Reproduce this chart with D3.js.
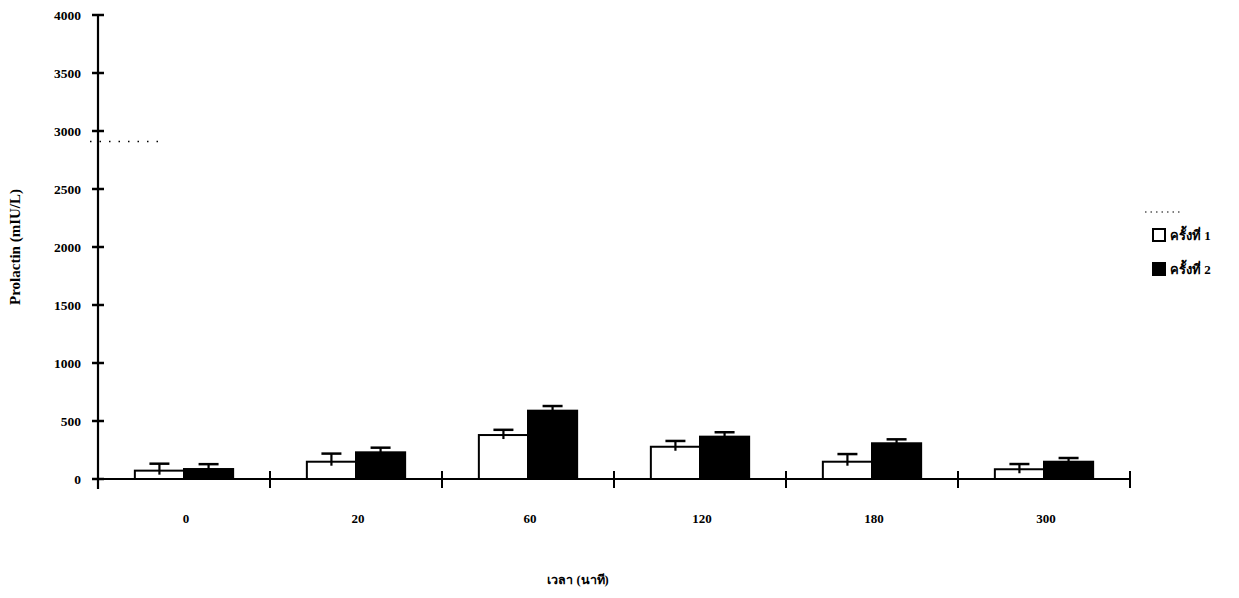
<!DOCTYPE html>
<html><head><meta charset="utf-8">
<script src="https://cdn.jsdelivr.net/npm/d3@7"></script>
<style>
body{margin:0;background:#fff;}
svg text{font-family:"Liberation Serif","DejaVu Serif",serif;font-weight:bold;fill:#000;}
</style></head>
<body><svg id="c" width="1239" height="598"></svg>
<script>
const categories = ["0","20","60","120","180","300"];
const seriesNames = ["ครั้งที่ 1","ครั้งที่ 2"];
const round1 = [72, 149, 379, 278, 149, 84];
const round1Err = [60, 70, 45, 50, 66, 45];
const round2 = [86, 230, 589, 365, 308, 149];
const round2Err = [42, 40, 40, 38, 34, 32];
const yTicks = [0,500,1000,1500,2000,2500,3000,3500,4000];
const xTitle = "เวลา (นาที)";
const yTitle = "Prolactin (mIU/L)";

(function(){
const svg = d3.select("#c");
const pL = 98, pR = 1130, pT = 15, pB = 479;
const x = d3.scaleBand().domain(categories).range([pL,pR]).paddingInner(0).paddingOuter(0);
const inner = d3.scaleBand().domain([0,1]).range([0,x.bandwidth()]).paddingOuter(0.75).paddingInner(0);
const y = d3.scaleLinear().domain([0,4000]).range([pB,pT]);

// y axis
svg.append("line").attr("x1",pL).attr("x2",pL).attr("y1",pT).attr("y2",pB+10).attr("stroke","#000").attr("stroke-width",2.2);
yTicks.forEach(t=>{
  svg.append("line").attr("x1",pL-6).attr("x2",pL+6).attr("y1",y(t)).attr("y2",y(t)).attr("stroke","#000").attr("stroke-width",2.5);
  svg.append("text").attr("x",pL-17).attr("y",y(t)+5).attr("text-anchor","end").attr("font-size",13.5).text(t);
});
// x axis
svg.append("line").attr("x1",pL-6).attr("x2",pR).attr("y1",pB).attr("y2",pB).attr("stroke","#000").attr("stroke-width",2.2);
const bounds = categories.map(c=>x(c)).concat([pR]);
bounds.slice(1).forEach(b=>{
  svg.append("line").attr("x1",b).attr("x2",b).attr("y1",pB-8).attr("y2",pB+9).attr("stroke","#000").attr("stroke-width",2);
});
categories.forEach(c=>{
  svg.append("text").attr("x",x(c)+x.bandwidth()/2+2).attr("y",pB+44).attr("text-anchor","middle").attr("font-size",13).text(c);
});

// bars
const series = [{v:round1,e:round1Err,fill:"#fff"},{v:round2,e:round2Err,fill:"#000"}];
series.forEach((s,si)=>{
  const g = svg.append("g");
  categories.forEach((c,i)=>{
    const bx = x(c)+inner(si), bw = inner.bandwidth();
    g.append("rect").attr("x",bx).attr("y",y(s.v[i])).attr("width",bw).attr("height",pB-y(s.v[i]))
      .attr("fill",s.fill).attr("stroke","#000").attr("stroke-width",2);
    const cx = bx+bw/2;
    g.append("line").attr("x1",cx).attr("x2",cx).attr("y1",y(s.v[i])+4).attr("y2",y(s.v[i]+s.e[i])).attr("stroke","#000").attr("stroke-width",2.2);
    g.append("line").attr("x1",cx-10).attr("x2",cx+10).attr("y1",y(s.v[i]+s.e[i])).attr("y2",y(s.v[i]+s.e[i])).attr("stroke","#000").attr("stroke-width",2.5);
  });
});

// scan dotted artifacts
svg.append("line").attr("x1",90).attr("x2",165).attr("y1",y(2910)).attr("y2",y(2910)).attr("stroke","#000").attr("stroke-width",1.5).attr("stroke-dasharray","1.5,8");
svg.append("line").attr("x1",1145).attr("x2",1180).attr("y1",212).attr("y2",212).attr("stroke","#000").attr("stroke-width",1.2).attr("stroke-dasharray","1.5,4");

// titles
svg.append("text").attr("transform",`translate(20,247) rotate(-90)`).attr("text-anchor","middle").attr("font-size",15).text(yTitle);
svg.append("text").attr("x",578).attr("y",584).attr("text-anchor","middle").attr("font-size",12.5).text(xTitle);

// legend
const lg = svg.append("g");
seriesNames.forEach((n,i)=>{
  const ly = 235 + i*34;
  lg.append("rect").attr("x",1153).attr("y",ly-6).attr("width",12).attr("height",12).attr("fill",series[i].fill).attr("stroke","#000").attr("stroke-width",2);
  lg.append("text").attr("x",1170).attr("y",ly+5).attr("font-size",13).text(n);
});
})();
</script></body></html>
